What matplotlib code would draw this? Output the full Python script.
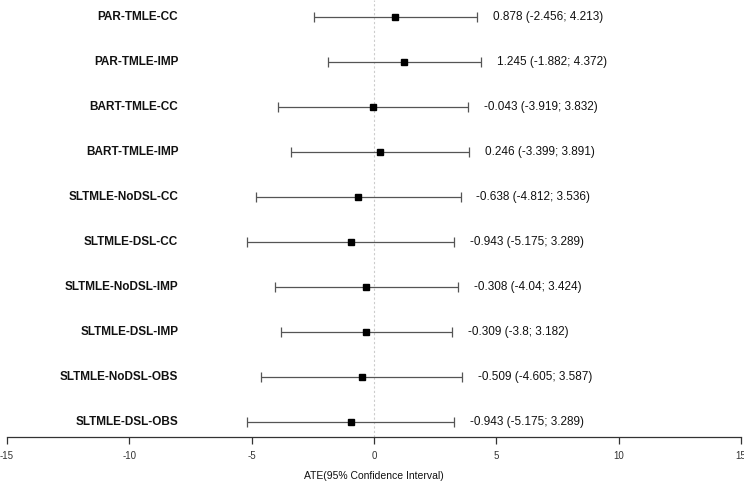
import numpy as np
import matplotlib.pyplot as plt

plt.rcParams['font.family'] = ['Liberation Sans', 'DejaVu Sans']

# dati del forest plot
metodi = ['PAR-TMLE-CC', 'PAR-TMLE-IMP', 'BART-TMLE-CC', 'BART-TMLE-IMP',
          'SLTMLE-NoDSL-CC', 'SLTMLE-DSL-CC', 'SLTMLE-NoDSL-IMP',
          'SLTMLE-DSL-IMP', 'SLTMLE-NoDSL-OBS', 'SLTMLE-DSL-OBS']
ate = [0.878, 1.245, -0.043, 0.246, -0.638, -0.943, -0.308, -0.309, -0.509, -0.943]
lower = [-2.456, -1.882, -3.919, -3.399, -4.812, -5.175, -4.04, -3.8, -4.605, -5.175]
upper = [4.213, 4.372, 3.832, 3.891, 3.536, 3.289, 3.424, 3.182, 3.587, 3.289]
xticks = [-15, -10, -5, 0, 5, 10, 15]

fig = plt.figure(figsize=(7.44, 4.82), dpi=100)
ax = fig.add_axes([7/744, 45/482, 734/744, 437/482])

y = np.arange(len(metodi))
ate = np.array(ate); lower = np.array(lower); upper = np.array(upper)

ax.axvline(0, color='#cccccc', lw=0.8, ls=(0, (2, 2)), zorder=0)
ax.errorbar(ate, y, xerr=[ate - lower, upper - ate], fmt='none',
            ecolor='#555555', elinewidth=0.9, capsize=3.5, capthick=0.9)
ax.plot(ate, y, 's', color='black', markersize=5)

for i in range(len(metodi)):
    ax.text(-8.0, y[i], metodi[i], ha='right', va='center',
            fontsize=8.5, fontweight='bold', color='#111111')
    ax.text(upper[i] + 0.65, y[i], '%s (%s; %s)' % (ate[i], lower[i], upper[i]),
            ha='left', va='center', fontsize=8.5, color='#111111')

ax.set_xlim(-15, 15)
ax.set_ylim(9.333, -0.378)
ax.set_xticks(xticks)
ax.set_xticklabels([str(t) for t in xticks], fontsize=7, color='#333333')
ax.tick_params(axis='x', direction='out', length=5, width=0.9, color='#333333', pad=5)
ax.set_yticks([])
for s in ['top', 'left', 'right']:
    ax.spines[s].set_visible(False)
ax.spines['bottom'].set_color('#333333')
ax.spines['bottom'].set_linewidth(0.9)
ax.set_xlabel('ATE(95% Confidence Interval)', fontsize=7.5, color='#111111', labelpad=7)

fig.savefig('out.png', dpi=100)
